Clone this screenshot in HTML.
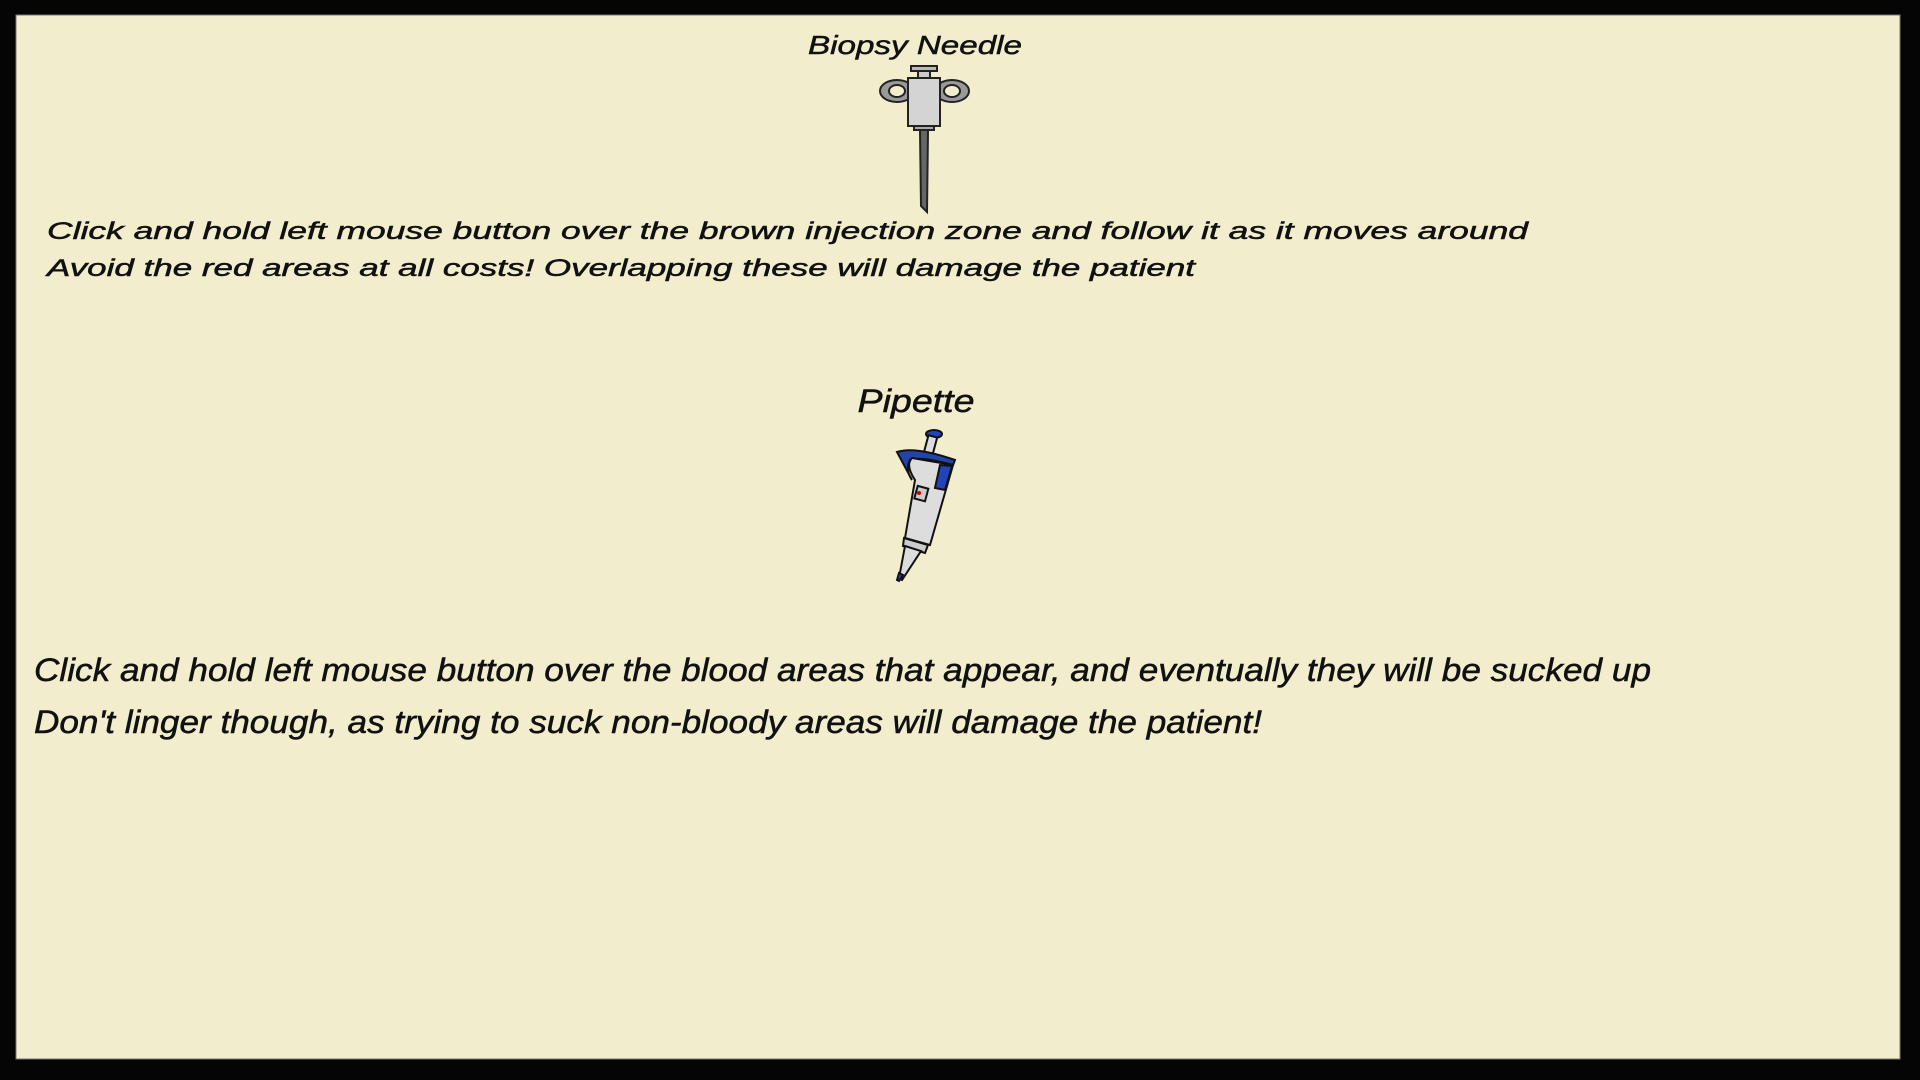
<!DOCTYPE html>
<html><head><meta charset="utf-8"><style>
html,body{margin:0;padding:0;background:#000;}
svg{display:block;}
text{font-family:"Liberation Sans",sans-serif;font-style:italic;fill:#111;stroke:#111;stroke-width:0.5;}
</style></head><body>
<svg width="1920" height="1080" viewBox="0 0 1920 1080">
<rect x="0" y="0" width="1920" height="1080" fill="#050505"/>
<rect x="16" y="15" width="1884" height="1044" fill="#f2edcc" stroke="#777" stroke-width="1"/>

<text x="915" y="54" font-size="26" text-anchor="middle" textLength="214" lengthAdjust="spacingAndGlyphs">Biopsy Needle</text>
<g stroke="#222" stroke-width="2">
  <ellipse cx="897" cy="91" rx="17" ry="11" fill="#999"/>
  <ellipse cx="952" cy="91" rx="17" ry="11" fill="#999"/>
  <ellipse cx="897" cy="91" rx="8" ry="6" fill="#f2edcc"/>
  <ellipse cx="952" cy="91" rx="8" ry="6" fill="#f2edcc"/>
  <rect x="911" y="66" width="26" height="5" fill="#bbb"/>
  <rect x="918" y="71" width="12" height="10" fill="#ccc"/>
  <rect x="908" y="78" width="32" height="48" fill="#d4d4d4"/>
  <rect x="914" y="126" width="20" height="4" fill="#aaa"/>
  <path d="M920 130 L928 130 L927 212 L921 206 Z" fill="#666"/>
</g>

<text x="47" y="239" font-size="24" textLength="1481" lengthAdjust="spacingAndGlyphs">Click and hold left mouse button over the brown injection zone and follow it as it moves around</text>
<text x="47" y="276" font-size="24" textLength="1148" lengthAdjust="spacingAndGlyphs">Avoid the red areas at all costs! Overlapping these will damage the patient</text>

<text x="916" y="412" font-size="32" text-anchor="middle" textLength="117" lengthAdjust="spacingAndGlyphs">Pipette</text>
<g stroke="#111" stroke-width="2">
  <ellipse cx="934" cy="434" rx="8" ry="4" fill="#2244bb"/>
  <rect x="926" y="436" width="9" height="18" fill="#ddd" transform="rotate(15 930 445)"/>
  <path d="M897 452 Q915 446 955 460 L953 465 Q920 456 910 460 Q905 470 912 480 Z" fill="#2244aa"/>
  <path d="M912 458 L953 465 L930 545 L905 538 L915 480 Q905 465 912 458 Z" fill="#ddd"/>
  <path d="M940 465 L952 466 L945 490 L935 488 Z" fill="#2244bb"/>
  <rect x="916" y="487" width="11" height="13" fill="#ccc" transform="rotate(15 921 493)"/>
  <circle cx="919" cy="493" r="2" fill="#c00" stroke="none"/>
  <path d="M904 538 L928 545 L925 553 L903 546 Z" fill="#ccc"/>
  <path d="M905 546 L921 551 L902 580 L899 578 Z" fill="#ddd"/>
  <path d="M899 573 L903 575 L899 581 L897 580 Z" fill="#2244cc"/>
</g>

<text x="34" y="681" font-size="32" textLength="1617" lengthAdjust="spacingAndGlyphs">Click and hold left mouse button over the blood areas that appear, and eventually they will be sucked up</text>
<text x="34" y="733" font-size="32" textLength="1228" lengthAdjust="spacingAndGlyphs">Don't linger though, as trying to suck non-bloody areas will damage the patient!</text>
</svg>
</body></html>
